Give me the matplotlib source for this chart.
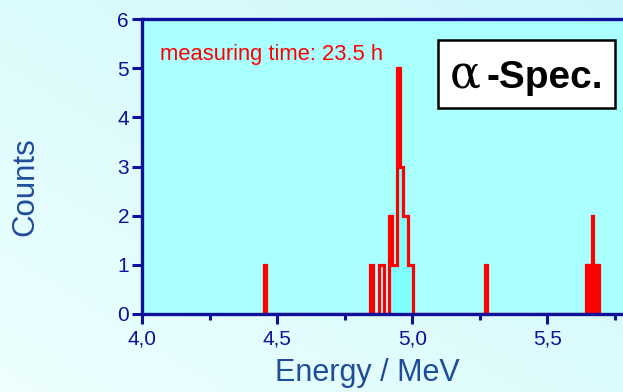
import numpy as np
import matplotlib
matplotlib.use("Agg")
import matplotlib.pyplot as plt
from matplotlib.patches import Rectangle

plt.rcParams['font.family'] = ['Liberation Sans', 'DejaVu Sans']

# histogram of the alpha spectrum (bin edges in MeV, counts per bin)
edges = [4.449, 4.459, 4.845, 4.856, 4.877, 4.897, 4.914, 4.925, 4.945,
         4.954, 4.965, 4.984, 5.002, 5.268, 5.276, 5.645, 5.650, 5.655,
         5.660, 5.665, 5.670, 5.675, 5.680, 5.685, 5.692]
counts = [1, 0, 1, 0, 1, 0, 2, 1, 5,
          3, 2, 1, 0, 1, 0, 1, 0,
          1, 0, 2, 0, 1, 0, 1]

# region of interest (shaded)
roi_lo, roi_hi = 4.914, 5.002

x_ticks = [4.0, 4.5, 5.0, 5.5]
x_ticklabels = ['4,0', '4,5', '5,0', '5,5']
y_ticks = [0, 1, 2, 3, 4, 5, 6]

navy = '#10109a'
label_blue = '#1f4c9c'

fig = plt.figure(figsize=(6.23, 3.92), dpi=100)

# light gradient background
bg = fig.add_axes([0, 0, 1, 1], zorder=-10)
grad = np.linspace(0, 1, 256)
gx, gy = np.meshgrid(grad, grad)
g = (gx * 0.5 + (1 - gy) * 0.5)
c0 = np.array([0.93, 1.0, 1.0])
c1 = np.array([0.80, 0.97, 0.98])
img = c0[None, None, :] * (1 - g[..., None]) + c1[None, None, :] * g[..., None]
bg.imshow(img, aspect='auto', extent=[0, 1, 0, 1])
bg.axis('off')

ax = fig.add_axes([0.2284, 0.199, 0.8668, 0.7525])
ax.set_facecolor('#aaffff')

e = np.array(edges)
c = np.array(counts)
i0 = int(np.searchsorted(e, roi_lo))
i1 = int(np.searchsorted(e, roi_hi))
ax.stairs(c[i0:i1], e[i0:i1 + 1], fill=True, color='#80ffff', zorder=1)
ax.stairs(c, e, color='#ff0000', linewidth=2.3, zorder=2)

ax.set_xlim(4.0, 6.0)
ax.set_ylim(0, 6)
ax.set_xticks(x_ticks)
ax.set_xticklabels(x_ticklabels)
ax.set_xticks([4.25, 4.75, 5.25, 5.75], minor=True)
ax.set_yticks(y_ticks)

for s in ax.spines.values():
    s.set_color(navy)
    s.set_linewidth(2.4)
ax.tick_params(axis='both', which='major', direction='out', length=7.5, width=2.2,
               color=navy, labelcolor=navy, labelsize=15, pad=2)
ax.tick_params(axis='x', which='major', pad=4)
ax.tick_params(axis='x', which='minor', direction='out', length=4.5, width=2.2,
               color=navy)

fig.text(367 / 623, 1 - 373 / 392, 'Energy / MeV', fontsize=22, color=label_blue,
         ha='center', va='center')
fig.text(25 / 623, 1 - 187 / 392, 'Counts', fontsize=22.5, color=label_blue,
         ha='center', va='center', rotation=90)

fig.text(160 / 623, 1 - 60 / 392, 'measuring time: 23.5 h', fontsize=15.8,
         color='#ff0000', ha='left', va='baseline')

fig.patches.append(Rectangle((438 / 623, 1 - 108 / 392), 177 / 623, 68 / 392,
                             transform=fig.transFigure, facecolor='white',
                             edgecolor='black', linewidth=1.8, zorder=5))
fig.text(465 / 623, 1 - 88 / 392, '\u03b1', fontsize=33, family='DejaVu Serif',
         color='black', ha='center', va='baseline', zorder=6)
fig.text(486 / 623, 1 - 88 / 392, '-Spec.', fontsize=28, fontweight='bold',
         color='black', ha='left', va='baseline', zorder=6)

fig.savefig('out.png', dpi=100)
